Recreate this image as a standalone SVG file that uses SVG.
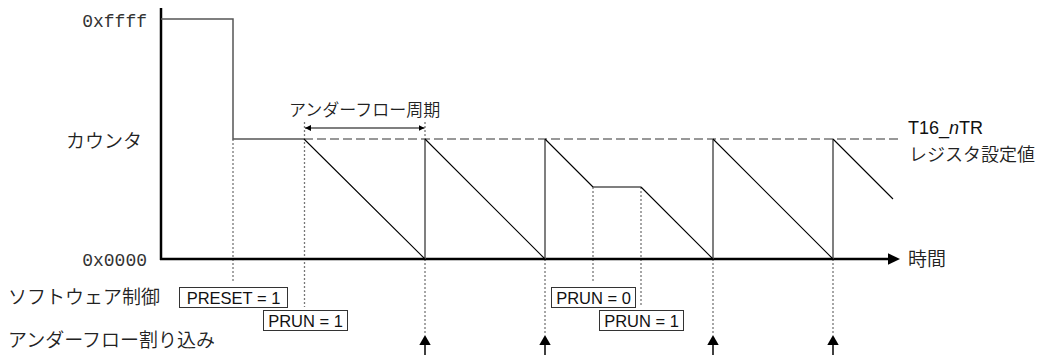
<svg xmlns="http://www.w3.org/2000/svg" width="1051" height="355" viewBox="0 0 1051 355">
<style>
.jp{font-family:"Noto Sans CJK JP","Noto Sans",sans-serif;font-weight:350;fill:#222}
.mono{font-family:"Liberation Mono","DejaVu Sans Mono",monospace;font-size:18px;fill:#333}
.sans{font-family:"Liberation Sans",Arial,sans-serif;fill:#111}
.box{fill:#fff;stroke:#333;stroke-width:1}
.dot{stroke:#777;stroke-width:1.3;stroke-dasharray:2 2;fill:none}
.dash{stroke:#777;stroke-width:1.3;stroke-dasharray:9 4;fill:none}
.sig{stroke:#555;stroke-width:1.5;fill:none}
.diag{stroke:#000;stroke-width:1.1;fill:none}
.axis{stroke:#000;stroke-width:2.5;fill:none}
</style>
<defs>
<marker id="ah" viewBox="0 0 6 6" refX="6" refY="3" markerWidth="6" markerHeight="6" markerUnits="userSpaceOnUse" orient="auto-start-reverse">
<path d="M0,0 L6,3 L0,6 Z" fill="#000"/>
</marker>
<g id="irq">
<polygon points="-5.7,10 0,0 5.7,10" fill="#000"/>
<line x1="0" y1="10" x2="0" y2="20" stroke="#000" stroke-width="1.5"/>
</g>
</defs>

<g id="guides">
<line class="dash" x1="304" y1="139" x2="900" y2="139"/>
<line class="dot" x1="233" y1="139" x2="233" y2="282"/>
<line class="dot" x1="304.5" y1="122" x2="304.5" y2="307"/>
<line class="dot" x1="425" y1="122" x2="425" y2="139"/>
<line class="dot" x1="425" y1="259" x2="425" y2="333"/>
<line class="dot" x1="545" y1="259" x2="545" y2="333"/>
<line class="dot" x1="593" y1="187" x2="593" y2="281"/>
<line class="dot" x1="641" y1="187" x2="641" y2="305"/>
<line class="dot" x1="713" y1="259" x2="713" y2="333"/>
<line class="dot" x1="833" y1="259" x2="833" y2="333"/>
</g>

<g id="axes">
<line class="axis" x1="161" y1="8" x2="161" y2="260"/>
<line class="axis" x1="160" y1="259" x2="889" y2="259"/>
<polygon points="888,253.3 900,259 888,264.7" fill="#000"/>
</g>

<g id="connectors">
<path class="sig" d="M161,19 H233 V139 H304"/>
<path class="sig" d="M425,259 V139 M545,259 V139 M593,187 H641 M713,259 V139 M833,259 V139"/>
<path class="diag" d="M304,139 L425,259 M425,139 L545,259 M545,139 L593,187 M641,187 L713,259 M713,139 L833,259 M833,139 L893,199"/>
<line x1="305" y1="128" x2="424.5" y2="128" stroke="#000" stroke-width="1.2" marker-start="url(#ah)" marker-end="url(#ah)"/>
<use href="#irq" x="425" y="335"/>
<use href="#irq" x="545" y="335"/>
<use href="#irq" x="713" y="335"/>
<use href="#irq" x="833" y="335"/>
</g>

<g id="labels">
<text class="mono" x="147" y="27" text-anchor="end">0xffff</text>
<text class="mono" x="147" y="266" text-anchor="end">0x0000</text>
<text class="jp" x="66" y="148" font-size="19">カウンタ</text>
<text class="jp" x="289" y="116" font-size="17">アンダーフロー周期</text>
<text class="jp" x="8" y="304" font-size="19">ソフトウェア制御</text>
<text class="jp" x="8" y="347" font-size="19">アンダーフロー割り込み</text>
<text class="sans" x="908" y="134" font-size="18">T16_<tspan font-style="italic">n</tspan>TR</text>
<text class="jp" x="909" y="161" font-size="18">レジスタ設定値</text>
<text class="jp" x="908" y="266" font-size="19">時間</text>
</g>

<g id="node-preset">
<rect class="box" x="179.5" y="287.5" width="108" height="20"/>
<text class="sans" x="233.5" y="304" font-size="16.5" text-anchor="middle">PRESET = 1</text>
</g>
<g id="node-prun1a">
<rect class="box" x="263.5" y="310.5" width="84" height="20"/>
<text class="sans" x="305.5" y="327" font-size="16.5" text-anchor="middle">PRUN = 1</text>
</g>
<g id="node-prun0">
<rect class="box" x="551.5" y="287.5" width="84" height="20"/>
<text class="sans" x="593.5" y="304" font-size="16.5" text-anchor="middle">PRUN = 0</text>
</g>
<g id="node-prun1b">
<rect class="box" x="599.5" y="310.5" width="84" height="20"/>
<text class="sans" x="641.5" y="327" font-size="16.5" text-anchor="middle">PRUN = 1</text>
</g>
</svg>
